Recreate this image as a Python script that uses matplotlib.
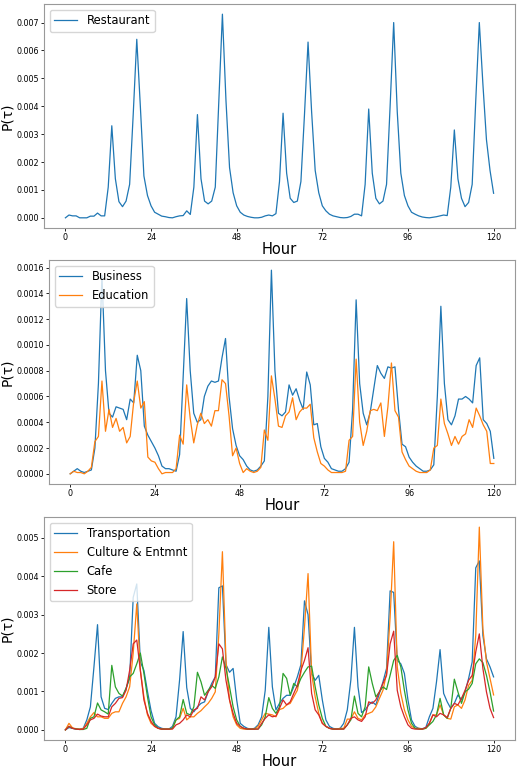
import matplotlib.pyplot as plt

# hourly probabilities over 5 days (0..120 h)
hours = list(range(121))

restaurant = [
    0.0, 0.0001, 0.00007, 0.00007, 0.0, 0.0, 0.0, 0.00006, 0.00006, 0.00017, 0.00007, 0.00007,
    0.0011, 0.0033, 0.0014, 0.00058, 0.0004, 0.0006, 0.0012, 0.0037, 0.0064, 0.0040, 0.0015, 0.0008,
    0.00043, 0.0002, 0.00013, 0.00006, 0.00004, 0.00001, 0.0, 0.00004, 0.00007, 0.00008, 0.00025, 0.00012,
    0.0011, 0.0037, 0.0014, 0.0006, 0.0005, 0.0006, 0.0011, 0.0042, 0.0073, 0.0042, 0.0018, 0.0009,
    0.00043, 0.0002, 0.0001, 0.00005, 0.00002, 0.0, 0.0, 0.00002, 0.00007, 0.0001, 0.00007, 0.00015,
    0.0013, 0.00375, 0.0016, 0.0007, 0.00055, 0.0006, 0.0013, 0.0037, 0.0063, 0.0038, 0.0017, 0.0009,
    0.00043, 0.00025, 0.00013, 0.00007, 0.00004, 0.00001, 0.0, 0.00001, 0.00005, 0.00013, 0.00013, 0.00007,
    0.0012, 0.0039, 0.0016, 0.0007, 0.0005, 0.0006, 0.0012, 0.0040, 0.0070, 0.0038, 0.0016, 0.0008,
    0.00043, 0.0002, 0.00013, 0.00007, 0.00003, 0.00001, 0.0, 0.00002, 0.00004, 0.00007, 0.0001, 0.00008,
    0.0011, 0.00315, 0.0014, 0.0007, 0.0004, 0.00055, 0.0012, 0.0042, 0.0070, 0.0048, 0.0028, 0.0017,
    0.00088]

business = [
    0.0, 0.00002, 0.00004, 0.00002, 0.00001, 0.00002, 0.00003, 0.0002, 0.0007, 0.00154,
    0.0008, 0.00047, 0.00044, 0.00052, 0.00051, 0.0005, 0.00042, 0.00058, 0.00055, 0.00092,
    0.0008, 0.00037, 0.0003, 0.00025, 0.0002, 0.00014, 0.00006, 0.00004, 0.00004, 0.00003,
    0.00002, 0.00015, 0.00075, 0.00136, 0.0008, 0.00047, 0.0004, 0.00042, 0.0006, 0.00068,
    0.00072, 0.00071, 0.00072, 0.0009, 0.00105, 0.0006, 0.00035, 0.00022, 0.00014, 0.00011,
    0.00006, 0.00003, 0.00002, 0.00003, 0.00006, 0.0001, 0.0006, 0.00158, 0.0008, 0.00047,
    0.00045, 0.00048, 0.00069, 0.00061, 0.00066, 0.00057, 0.0005, 0.00079, 0.00069, 0.00038,
    0.00039, 0.00021, 0.00012, 0.00009, 0.00004, 0.00003, 0.00002, 0.00002, 0.00004, 0.00009,
    0.0005, 0.00135, 0.0007, 0.00047, 0.00038, 0.00048, 0.00066, 0.00084, 0.00078, 0.00074,
    0.00083, 0.00082, 0.00083, 0.0005, 0.00023, 0.00021, 0.00013, 0.00009, 0.00006, 0.00004,
    0.00002, 0.00002, 0.00003, 0.00007, 0.0006, 0.0013, 0.0007, 0.00042, 0.00038, 0.00045,
    0.00058, 0.00058, 0.0006, 0.00058, 0.00055, 0.00084, 0.0009, 0.00042, 0.00039, 0.00033,
    0.00012]

education = [
    0.0, 0.00002, 0.00001, 0.00001, 0.0, 0.00002, 0.00005, 0.00025, 0.00029, 0.00072,
    0.00033, 0.0005, 0.00036, 0.00043, 0.00033, 0.00036, 0.00024, 0.00029, 0.00056, 0.00072,
    0.00051, 0.00056, 0.00013, 0.0001, 0.00009, 0.00004, 0.0, 0.00001, 0.00001, 0.00001,
    0.00004, 0.0003, 0.00023, 0.00069, 0.00043, 0.00024, 0.00038, 0.00047, 0.00039, 0.00042,
    0.00037, 0.00049, 0.00049, 0.00073, 0.0007, 0.00045, 0.00014, 0.0002, 0.00008, 0.00001,
    0.00004, 0.00002, 0.00001, 0.00002, 0.00005, 0.00034, 0.00026, 0.00076, 0.00058, 0.00037,
    0.00036, 0.00045, 0.00048, 0.00059, 0.00042, 0.00048, 0.00051, 0.00051, 0.00054, 0.00028,
    0.00017, 0.00008, 0.00006, 0.00003, 0.00001, 0.00001, 0.00001, 0.00001, 0.00002, 0.00026,
    0.00029, 0.00089, 0.0004, 0.00022, 0.00033, 0.00049, 0.0005, 0.00049, 0.00055, 0.00029,
    0.00052, 0.00086, 0.00049, 0.00044, 0.00017, 0.00011, 0.00006, 0.00004, 0.00002, 0.00001,
    0.00001, 0.00001, 0.00003, 0.0002, 0.00022, 0.00058, 0.00039, 0.00031, 0.00022, 0.00029,
    0.00023, 0.00029, 0.00031, 0.00042, 0.00036, 0.00051, 0.00045, 0.00038, 0.00033, 0.00008,
    0.00008]

transportation = [
    0.0, 0.00006, 0.00004, 0.00002, 0.00002, 0.00004, 0.00026, 0.0006, 0.00164, 0.00274,
    0.00086, 0.00056, 0.00053, 0.00069, 0.00082, 0.00086, 0.00086, 0.00108, 0.00134, 0.00345,
    0.0038, 0.00177, 0.00155, 0.001, 0.0005, 0.00017, 0.00008, 0.00004, 0.00002, 0.00002,
    0.00009, 0.00034, 0.0013, 0.00256, 0.0011, 0.00056, 0.00047, 0.0006, 0.00069, 0.00073,
    0.00099, 0.00121, 0.00138, 0.0037, 0.00375, 0.0017, 0.0015, 0.0016, 0.00078, 0.00017,
    0.00009, 0.00004, 0.00002, 0.00004, 0.00013, 0.00034, 0.00103, 0.00267, 0.00112, 0.00052,
    0.00069, 0.00082, 0.0009, 0.0009, 0.00112, 0.00138, 0.0017, 0.00336, 0.003, 0.00147,
    0.00129, 0.00142, 0.00078, 0.00026, 0.00009, 0.00004, 0.00002, 0.00004, 0.00017, 0.00052,
    0.0013, 0.00267, 0.00112, 0.00045, 0.00052, 0.00065, 0.00073, 0.00065, 0.00095, 0.00125,
    0.0016, 0.00362, 0.00358, 0.00181, 0.00172, 0.00147, 0.00078, 0.00026, 0.00009, 0.00004,
    0.00003, 0.00006, 0.00034, 0.00056, 0.00125, 0.00209, 0.00095, 0.00073, 0.00056, 0.00069,
    0.00091, 0.00078, 0.00099, 0.00134, 0.00177, 0.00422, 0.0044, 0.00246, 0.00185, 0.00164,
    0.00138]

culture = [
    0.0, 0.00017, 0.00005, 0.00003, 0.00002, 0.00003, 0.00017, 0.00034, 0.00045, 0.00034,
    0.00034, 0.0003, 0.0003, 0.00043, 0.00047, 0.00047, 0.00069, 0.00086, 0.00112, 0.002,
    0.00328, 0.00155, 0.00086, 0.00039, 0.00017, 0.00009, 0.00004, 0.00002, 0.00002, 0.00002,
    0.00004, 0.00026, 0.0003, 0.00056, 0.00026, 0.00034, 0.00034, 0.00043, 0.0005, 0.0006,
    0.00069, 0.00082, 0.00099, 0.0025, 0.00464, 0.0018, 0.00078, 0.00034, 0.00013, 0.00004,
    0.00002, 0.00002, 0.00002, 0.00002, 0.00009, 0.00026, 0.00043, 0.00041, 0.00039, 0.00034,
    0.00053, 0.00056, 0.00065, 0.00069, 0.00086, 0.00103, 0.0015, 0.00267, 0.00407, 0.00147,
    0.00086, 0.00043, 0.00017, 0.00009, 0.00004, 0.00002, 0.00002, 0.00004, 0.00004, 0.00028,
    0.00028, 0.00047, 0.0003, 0.00026, 0.00039, 0.00043, 0.00047, 0.0006, 0.00082, 0.00103,
    0.00147, 0.00293, 0.0049, 0.00164, 0.00095, 0.00052, 0.00026, 0.00009, 0.00004, 0.00004,
    0.00002, 0.00004, 0.00017, 0.00039, 0.00039, 0.00065, 0.00039, 0.0003, 0.00028, 0.0006,
    0.00065, 0.00056, 0.00078, 0.00116, 0.00129, 0.00246, 0.00528, 0.00263, 0.00177, 0.00134,
    0.00091]

cafe = [
    0.0, 0.00009, 0.00004, 0.00002, 0.00001, 0.00001, 0.00004, 0.0003, 0.00034, 0.0007,
    0.00052, 0.00047, 0.00041, 0.00168, 0.00112, 0.00095, 0.00088, 0.00108, 0.00138, 0.00147,
    0.00172, 0.002, 0.00147, 0.00086, 0.00034, 0.00013, 0.00004, 0.00002, 0.00002, 0.00002,
    0.00004, 0.00026, 0.00034, 0.00079, 0.00043, 0.00039, 0.0006, 0.0015, 0.00125, 0.0009,
    0.00103, 0.00116, 0.00108, 0.00138, 0.0019, 0.0016, 0.00112, 0.0006, 0.00026, 0.00009,
    0.00004, 0.00002, 0.00002, 0.00002, 0.00002, 0.00013, 0.00034, 0.00084, 0.00056, 0.00043,
    0.0006, 0.00147, 0.00134, 0.0009, 0.00121, 0.00112, 0.00134, 0.0015, 0.00164, 0.00166,
    0.00112, 0.00065, 0.0003, 0.00009, 0.00004, 0.00002, 0.00002, 0.00002, 0.00002, 0.00013,
    0.00026, 0.00088, 0.00043, 0.00034, 0.0006, 0.00164, 0.00121, 0.00086, 0.00099, 0.00112,
    0.00105, 0.00142, 0.00181, 0.00194, 0.00164, 0.00103, 0.00052, 0.00017, 0.00004, 0.00002,
    0.00002, 0.00004, 0.00013, 0.00022, 0.00039, 0.00082, 0.00039, 0.0003, 0.00056, 0.00132,
    0.00099, 0.00069, 0.00099, 0.00106, 0.00121, 0.00172, 0.00185, 0.00175, 0.00142, 0.00099,
    0.00049]

store = [
    0.0, 0.00009, 0.00004, 0.00002, 0.00001, 0.00002, 0.00013, 0.00026, 0.0003, 0.00041,
    0.00036, 0.00034, 0.00034, 0.0006, 0.00069, 0.00082, 0.00084, 0.00103, 0.00155, 0.00224,
    0.00234, 0.00155, 0.00078, 0.00043, 0.00022, 0.00009, 0.00004, 0.00002, 0.00002, 0.00002,
    0.00002, 0.00013, 0.00017, 0.00026, 0.00039, 0.00034, 0.00052, 0.00056, 0.00086, 0.00078,
    0.00099, 0.00112, 0.00138, 0.00224, 0.00211, 0.00129, 0.00078, 0.00043, 0.00017, 0.00009,
    0.00004, 0.00002, 0.00002, 0.00002, 0.00002, 0.00017, 0.0003, 0.00039, 0.00034, 0.00036,
    0.00056, 0.00078, 0.00065, 0.00073, 0.00095, 0.00116, 0.00155, 0.00181, 0.00214, 0.00095,
    0.00052, 0.00039, 0.00017, 0.00009, 0.00004, 0.00002, 0.00002, 0.00002, 0.00002, 0.00013,
    0.0003, 0.00034, 0.00026, 0.00022, 0.00034, 0.00073, 0.00069, 0.00078, 0.00099, 0.00121,
    0.00142, 0.00224, 0.00257, 0.00103, 0.0006, 0.00034, 0.00013, 0.00004, 0.00002, 0.00002,
    0.00002, 0.00006, 0.00017, 0.00039, 0.00034, 0.00043, 0.00039, 0.00032, 0.00056, 0.00069,
    0.00065, 0.00082, 0.00103, 0.00129, 0.00142, 0.00203, 0.0025, 0.0016, 0.00099, 0.00056,
    0.00032]

xticks = [0, 24, 48, 72, 96, 120]

W, H = 518, 770
fig = plt.figure(figsize=(W / 100, H / 100), dpi=100)

# axes boxes in pixels: left, top, right, bottom
boxes = [(44, 4, 515, 228), (49, 260, 515, 484), (44, 517, 515, 740)]
axes = [fig.add_axes([l / W, 1 - b / H, (r - l) / W, (b - t) / H]) for l, t, r, b in boxes]
ax1, ax2, ax3 = axes

ax1.plot(hours, restaurant, lw=0.9, label='Restaurant')

ax2.plot(hours, business, lw=0.9, label='Business')
ax2.plot(hours, education, lw=0.9, label='Education')

ax3.plot(hours, transportation, lw=0.9, label='Transportation')
ax3.plot(hours, culture, lw=0.9, label='Culture & Entmnt')
ax3.plot(hours, cafe, lw=0.9, label='Cafe')
ax3.plot(hours, store, lw=0.9, label='Store')

for ax, (l, t, r, b) in zip(axes, boxes):
    ax.set_xticks(xticks)
    ax.tick_params(labelsize=5.8, length=2, width=0.6, pad=1.5)
    ax.set_xlabel('Hour', fontsize=10.5, labelpad=0)
    ax.set_ylabel('P(τ)', fontsize=10)
    ax.yaxis.set_label_coords((14 - l) / (r - l), 0.5)
    ax.legend(loc='upper left', fontsize=8.3)
    for s in ax.spines.values():
        s.set_color('#999999')

plt.savefig('out.png', dpi=100)
